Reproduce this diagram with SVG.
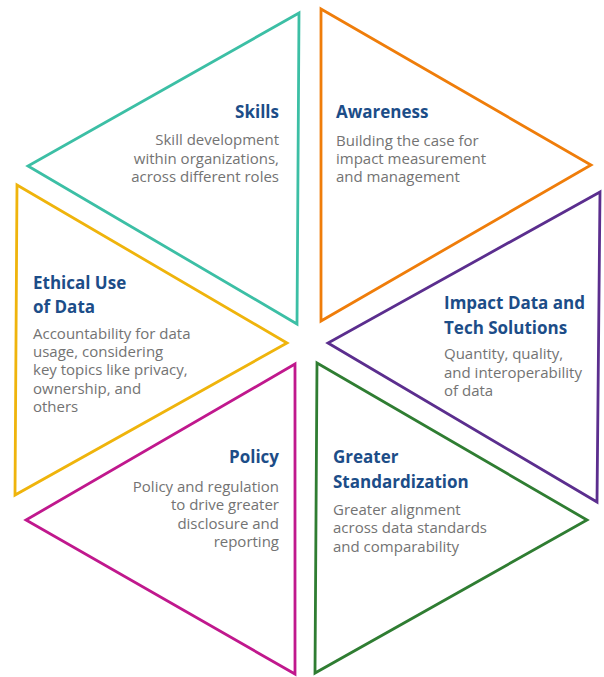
<svg xmlns="http://www.w3.org/2000/svg" width="604" height="677" viewBox="0 0 604 677">
  <style>
    .tri { fill: none; stroke-width: 2.8; stroke-linejoin: miter; }
    .title { font-family: "Open Sans", "Liberation Sans", sans-serif; font-weight: 700; font-size: 17px; fill: #1c4d88; }
    .body { font-family: "Open Sans", "Liberation Sans", sans-serif; font-size: 15px; fill: #737373; }
    .end { text-anchor: end; }
  </style>
  <rect width="604" height="677" fill="#ffffff"/>

  <!-- Skills -->
  <g id="skills">
    <polygon class="tri" stroke="#3cbfa5" points="299,13 28,166 297,324"/>
    <text class="title end" x="279" y="118">Skills</text>
    <text class="body end" x="279" y="145">Skill development</text>
    <text class="body end" x="279" y="163.5">within organizations,</text>
    <text class="body end" x="279" y="182">across different roles</text>
  </g>

  <!-- Awareness -->
  <g id="awareness">
    <polygon class="tri" stroke="#ef7d0a" points="321,9 591,165 321,321"/>
    <text class="title" x="336" y="118">Awareness</text>
    <text class="body" x="336" y="145.5">Building the case for</text>
    <text class="body" x="336" y="163.5">impact measurement</text>
    <text class="body" x="336" y="182">and management</text>
  </g>

  <!-- Impact Data and Tech Solutions -->
  <g id="impact-data">
    <polygon class="tri" stroke="#5b2e8e" points="600,192 328,343 597,502"/>
    <text class="title" x="444" y="309">Impact Data and</text>
    <text class="title" x="444" y="334">Tech Solutions</text>
    <text class="body" x="444" y="359">Quantity, quality,</text>
    <text class="body" x="444" y="377.5">and interoperability</text>
    <text class="body" x="444" y="396">of data</text>
  </g>

  <!-- Greater Standardization -->
  <g id="standardization">
    <polygon class="tri" stroke="#2f7d32" points="317,363 587,520 315,673"/>
    <text class="title" x="333" y="463">Greater</text>
    <text class="title" x="333" y="488">Standardization</text>
    <text class="body" x="333" y="515">Greater alignment</text>
    <text class="body" x="333" y="533">across data standards</text>
    <text class="body" x="333" y="551.5">and comparability</text>
  </g>

  <!-- Policy -->
  <g id="policy">
    <polygon class="tri" stroke="#c0188d" points="295,364 26,520 295,674"/>
    <text class="title end" x="279" y="463">Policy</text>
    <text class="body end" x="279" y="491.5">Policy and regulation</text>
    <text class="body end" x="279" y="510">to drive greater</text>
    <text class="body end" x="279" y="528.5">disclosure and</text>
    <text class="body end" x="279" y="547">reporting</text>
  </g>

  <!-- Ethical Use of Data -->
  <g id="ethical-use">
    <polygon class="tri" stroke="#efb40c" points="17,185 287,343 15,495"/>
    <text class="title" x="33" y="289">Ethical Use</text>
    <text class="title" x="33" y="313">of Data</text>
    <text class="body" x="33" y="338.5">Accountability for data</text>
    <text class="body" x="33" y="357">usage, considering</text>
    <text class="body" x="33" y="375">key topics like privacy,</text>
    <text class="body" x="33" y="393.5">ownership, and</text>
    <text class="body" x="33" y="412">others</text>
  </g>

  <!-- the six segments are free-standing; no connectors are drawn between them -->
  <g id="connectors"/>
</svg>
